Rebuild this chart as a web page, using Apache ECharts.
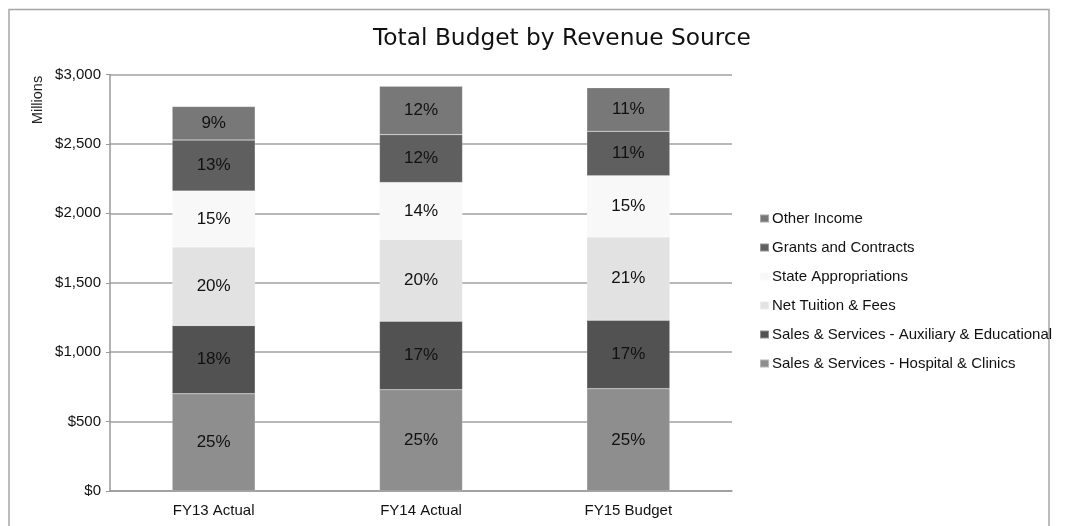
<!DOCTYPE html>
<html>
<head>
<meta charset="utf-8">
<script src="https://cdn.jsdelivr.net/npm/echarts@6/dist/echarts.min.js"></script>
<style>
html,body{margin:0;padding:0;background:#fff;}
#chart{width:1068px;height:526px;}
</style>
</head>
<body>
<div id="chart"></div>
<script>
const categories = ['FY13 Actual', 'FY14 Actual', 'FY15 Budget'];
const hospital = [700, 730, 737];
const auxiliary = [492, 493, 493];
const tuition = [566, 588, 600];
const state = [402, 411, 441];
const grants = [368, 345, 320];
const other = [241, 349, 313];
const yTicks = [0, 500, 1000, 1500, 2000, 2500, 3000];

const seriesDefs = [
  {name: 'Sales & Services - Hospital & Clinics', data: hospital, color: '#8e8e8e'},
  {name: 'Sales & Services - Auxiliary & Educational', data: auxiliary, color: '#525252'},
  {name: 'Net Tuition & Fees', data: tuition, color: '#e2e2e2'},
  {name: 'State Appropriations', data: state, color: '#f8f8f8'},
  {name: 'Grants and Contracts', data: grants, color: '#5f5f5f'},
  {name: 'Other Income', data: other, color: '#787878'}
];
const totals = categories.map((c, i) => seriesDefs.reduce((s, d) => s + d.data[i], 0));

const chart = echarts.init(document.getElementById('chart'));
chart.setOption({
  animation: false,
  backgroundColor: '#fff',
  title: {
    text: 'Total Budget by Revenue Source',
    left: 557, top: 22, textAlign: 'center',
    textStyle: {fontFamily: 'DejaVu Sans', fontSize: 23.3, fontWeight: 'normal', color: '#111'}
  },
  graphic: [
    {type: 'rect', shape: {x: 9, y: 9.5, width: 1040, height: 530}, style: {fill: 'none', stroke: '#a6a6a6', lineWidth: 1.5}, z: -10},
    {type: 'text', x: 38, y: 100, rotation: Math.PI / 2, style: {text: 'Millions', font: '14.5px "Liberation Sans"', fill: '#222', textAlign: 'center', textVerticalAlign: 'middle'}}
  ],
  legend: {
    orient: 'vertical', left: 754, top: 206,
    itemWidth: 9, itemHeight: 8, itemGap: 14,
    icon: 'rect',
    data: ['Other Income', 'Grants and Contracts', 'State Appropriations', 'Net Tuition & Fees', 'Sales & Services - Auxiliary & Educational', 'Sales & Services - Hospital & Clinics'],
    textStyle: {fontFamily: 'Liberation Sans', fontSize: 15, color: '#111', padding: [0, 0, 0, -2], lineHeight: 15}
  },
  grid: {left: 110, right: 336, top: 74.5, bottom: 35},
  xAxis: {
    type: 'category', data: categories,
    axisLine: {lineStyle: {color: '#999', width: 1.5}},
    axisTick: {show: false},
    axisLabel: {fontFamily: 'Liberation Sans', fontSize: 15, color: '#111', margin: 12}
  },
  yAxis: {
    type: 'value', min: yTicks[0], max: yTicks[yTicks.length - 1], interval: 500,
    axisLine: {show: true, lineStyle: {color: '#999', width: 1.5}},
    axisTick: {show: true, length: 4, lineStyle: {color: '#999'}},
    splitLine: {lineStyle: {color: '#a0a0a0', width: 1.5}},
    axisLabel: {fontFamily: 'Liberation Sans', fontSize: 15, color: '#111', margin: 9,
      formatter: v => '$' + v.toLocaleString('en-US')}
  },
  series: seriesDefs.map(d => ({
    name: d.name, type: 'bar', stack: 'total', data: d.data,
    barWidth: 83,
    itemStyle: {color: d.color, borderColor: 'rgba(255,255,255,0.35)', borderWidth: 0.5},
    label: {
      show: true, position: 'inside',
      fontFamily: 'Liberation Sans', fontSize: 17, color: '#111',
      formatter: p => Math.round(p.value / totals[p.dataIndex] * 100) + '%'
    }
  }))
});
</script>
</body>
</html>
